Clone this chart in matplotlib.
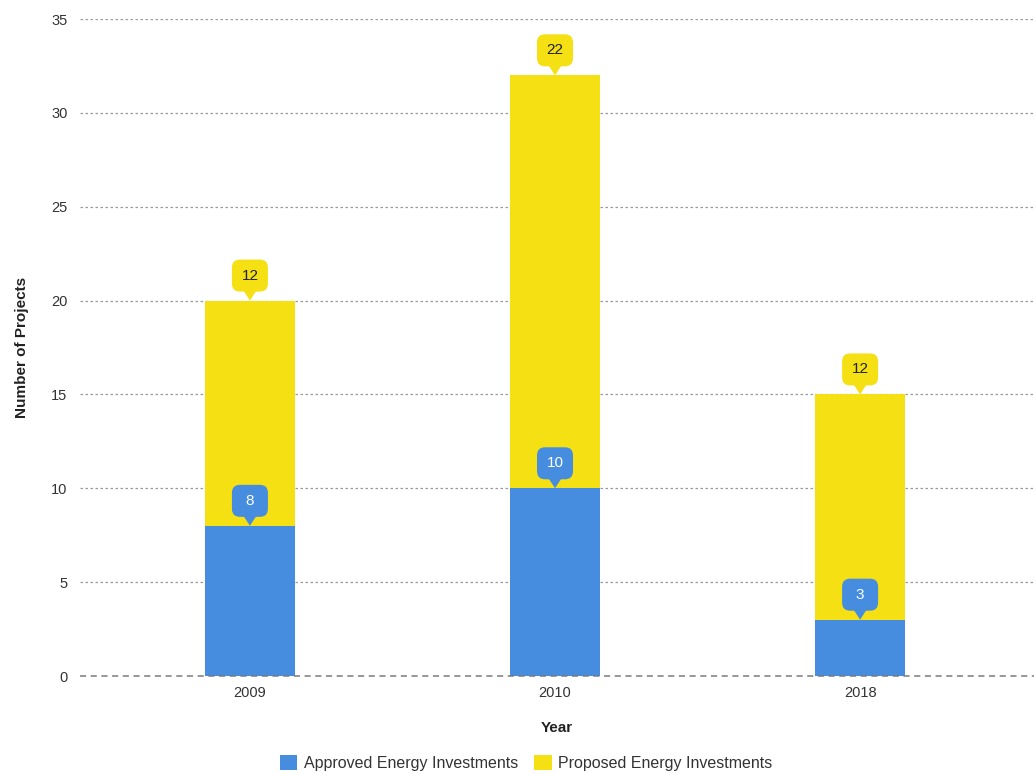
import matplotlib
matplotlib.use("Agg")
import matplotlib.pyplot as plt
import matplotlib.transforms as mtransforms
from matplotlib.patches import FancyBboxPatch, Polygon
from matplotlib.patches import Patch

plt.rcParams['font.family'] = ['Liberation Sans', 'DejaVu Sans']

years = ["2009", "2010", "2018"]
approved = [8, 10, 3]
proposed = [12, 22, 12]
series_names = ["Approved Energy Investments", "Proposed Energy Investments"]
yticks = [0, 5, 10, 15, 20, 25, 30, 35]

BLUE = "#468ddf"
YELLOW = "#f5e014"

fig = plt.figure(figsize=(10.34, 7.74), dpi=100)
ax = fig.add_axes([80/1034, 1-676/774, 1-80/1034, (676-19)/774])

x = list(range(len(years)))
w = 0.295
ax.bar(x, approved, width=w, color=BLUE, zorder=2)
ax.bar(x, proposed, width=w, bottom=approved, color=YELLOW, zorder=2)

ax.set_ylim(0, 35)
ax.set_xlim(-0.557, 2.57)
ax.set_yticks(yticks)
ax.set_xticks(x)
ax.set_xticklabels(years)
for s in ax.spines.values():
    s.set_visible(False)
ax.tick_params(axis='both', length=0, labelsize=10.5, colors="#333333")
ax.tick_params(axis='y', pad=9)
ax.tick_params(axis='x', pad=7)
for yv in yticks[1:]:
    ax.axhline(yv, color="#9a9a9a", lw=0.9, ls=(0, (2, 2)), zorder=1)
ax.axhline(0, color="#7a7a7a", lw=1.1, ls=(0, (4, 3)), zorder=3, clip_on=False)

ax.set_ylabel("Number of Projects", fontsize=11, fontweight='bold', color="#222222", labelpad=16)
ax.set_xlabel("Year", fontsize=11, fontweight='bold', color="#222222", labelpad=15)


def bubble(xd, yd, text, fc, tc):
    trans = fig.dpi_scale_trans + mtransforms.ScaledTranslation(xd, yd, ax.transData)
    bw, bh, gap = 0.36, 0.32, 0.09
    box = FancyBboxPatch((-bw/2, gap), bw, bh, boxstyle="round,pad=0,rounding_size=0.08",
                         fc=fc, ec='none', transform=trans, zorder=5, clip_on=False)
    ax.add_patch(box)
    tri = Polygon([(-0.065, gap + 0.01), (0.065, gap + 0.01), (0, 0.0)], closed=True,
                  fc=fc, ec='none', transform=trans, zorder=5, clip_on=False)
    ax.add_patch(tri)
    ax.text(0, gap + bh/2, text, transform=trans, ha='center', va='center',
            fontsize=11, color=tc, zorder=6)


for i in range(len(years)):
    bubble(x[i], approved[i], str(approved[i]), BLUE, "white")
    bubble(x[i], approved[i] + proposed[i], str(proposed[i]), YELLOW, "#222222")

handles = [Patch(facecolor=BLUE, edgecolor='none'), Patch(facecolor=YELLOW, edgecolor='none')]
fig.legend(handles, series_names, loc='center', bbox_to_anchor=(526/1034, 1-763/774), ncol=2,
           frameon=False, fontsize=11.5, handlelength=1.1, handleheight=1.1, handletextpad=0.4,
           columnspacing=1.0, labelcolor="#333333")

fig.savefig("out.png", dpi=100)
